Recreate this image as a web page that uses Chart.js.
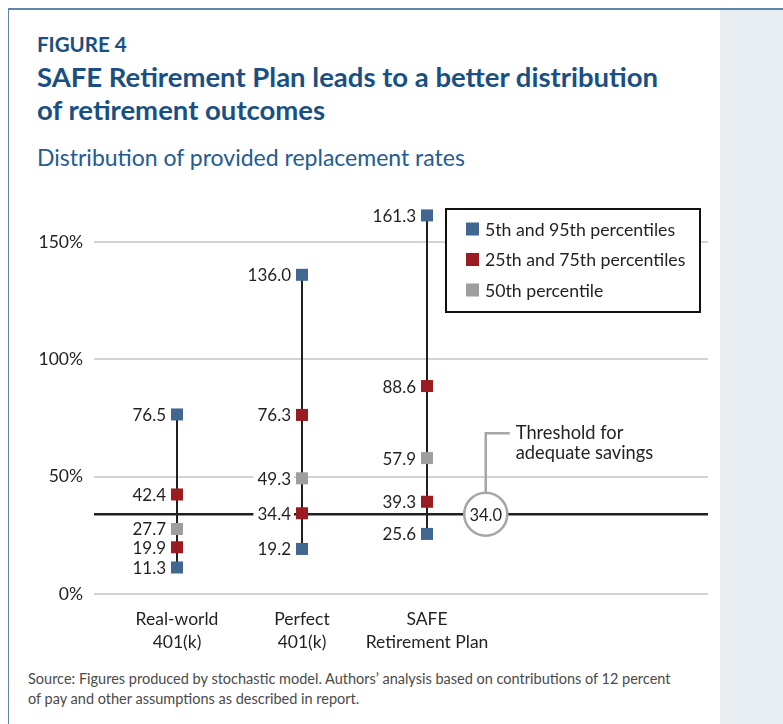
<!DOCTYPE html>
<html>
<head>
<meta charset="utf-8">
<script src="https://cdn.jsdelivr.net/npm/chart.js@4.4.1/dist/chart.umd.min.js"></script>
<style>
  body { margin: 0; width: 783px; height: 724px; background: #fff; position: relative; overflow: hidden; font-family: Lato, sans-serif; }
  .frame { position: absolute; left: 8px; top: 8px; right: 0; bottom: 0; border-left: 1.5px solid #5e85ab; border-top: 2px solid #5e85ab; }
  .side { position: absolute; left: 720px; top: 10px; width: 63px; bottom: 0; background: #e9eef3; }
  .fig { position: absolute; left: 37px; top: 32px; font-weight: 700; font-size: 20.5px; line-height: 24px; color: #1a4f84; }
  .title { position: absolute; left: 37px; top: 60px; font-weight: 700; font-size: 27.5px; line-height: 33px; color: #1a4f84; }
  .sub { position: absolute; left: 37px; top: 143px; font-size: 23px; line-height: 28px; color: #235b93; }
  .source { position: absolute; left: 28px; top: 669px; font-size: 14.5px; line-height: 20px; color: #4a4a4a; }
  #chart { position: absolute; left: 0; top: 0; }
</style>
</head>
<body>
<div class="frame"></div>
<div class="side"></div>
<div class="fig">FIGURE 4</div>
<div class="title">SAFE Retirement Plan leads to a better distribution<br>of retirement outcomes</div>
<div class="sub">Distribution of provided replacement rates</div>
<div class="source">Source: Figures produced by stochastic model. Authors’ analysis based on contributions of 12 percent<br>of pay and other assumptions as described in report.</div>
<canvas id="chart" width="720" height="724"></canvas>
<script>
const categories = [['Real-world', '401(k)'], ['Perfect', '401(k)'], ['SAFE', 'Retirement Plan']];
const p5 = [11.3, 19.2, 25.6];
const p25 = [19.9, 34.4, 39.3];
const p50 = [27.7, 49.3, 57.9];
const p75 = [42.4, 76.3, 88.6];
const p95 = [76.5, 136.0, 161.3];
const threshold = 34.0;
const yTicks = [0, 50, 100, 150];

const BLUE = '#41668f', RED = '#9b1c20', GREY = '#9e9e9e', INK = '#231f20';
const FONT = 'Lato, sans-serif';

function pts(...lists) {
  const out = [];
  lists.forEach(l => l.forEach((v, i) => out.push({ x: i + 1, y: v })));
  return out;
}

// vertical 5th-95th whiskers, broken with a null between categories
const ranges = [];
p5.forEach((v, i) => {
  ranges.push({ x: i + 1, y: v }, { x: i + 1, y: p95[i] }, { x: i + 1.5, y: null });
});

const marker = { pointStyle: 'rect', pointRadius: 8.5, pointHoverRadius: 8.5, borderWidth: 0, showLine: false };

// threshold line, circled value and callout
const thresholdPlugin = {
  id: 'threshold',
  beforeDatasetsDraw(chart) {
    const { ctx, chartArea: a, scales: { y } } = chart;
    const py = y.getPixelForValue(threshold);
    ctx.save();
    ctx.strokeStyle = INK;
    ctx.lineWidth = 2.5;
    ctx.beginPath();
    ctx.moveTo(a.left, py);
    ctx.lineTo(a.right, py);
    ctx.stroke();
    ctx.restore();
  },
  afterDatasetsDraw(chart) {
    const { ctx, scales: { x, y } } = chart;
    const cx = x.getPixelForValue(3.47), cy = y.getPixelForValue(threshold);
    ctx.save();
    ctx.strokeStyle = '#a6a6a6';
    ctx.lineWidth = 2.5;
    ctx.beginPath();
    ctx.moveTo(cx, cy - 22);
    ctx.lineTo(cx, cy - 81);
    ctx.lineTo(cx + 24, cy - 81);
    ctx.stroke();
    ctx.beginPath();
    ctx.arc(cx, cy, 21.5, 0, Math.PI * 2);
    ctx.fillStyle = '#fff';
    ctx.fill();
    ctx.stroke();
    ctx.fillStyle = INK;
    ctx.font = '16.5px ' + FONT;
    ctx.textAlign = 'center';
    ctx.textBaseline = 'middle';
    ctx.fillText(threshold.toFixed(1), cx, cy + 1);
    ctx.textAlign = 'left';
    ctx.font = '18.3px ' + FONT;
    ctx.fillText('Threshold for', cx + 30, cy - 81);
    ctx.fillText('adequate savings', cx + 30, cy - 61);
    ctx.restore();
  }
};

// value labels to the left of each square, on a white patch
const valueLabels = {
  id: 'valueLabels',
  afterDatasetsDraw(chart) {
    const { ctx } = chart;
    ctx.save();
    ctx.font = '17px ' + FONT;
    ctx.textAlign = 'right';
    ctx.textBaseline = 'middle';
    chart.data.datasets.forEach((ds, di) => {
      if (ds.type === 'line') return;
      chart.getDatasetMeta(di).data.forEach((pt, i) => {
        const txt = ds.data[i].y.toFixed(1);
        const w = ctx.measureText(txt).width;
        const right = pt.x - 11;
        ctx.fillStyle = '#fff';
        ctx.fillRect(right - w - 4, pt.y - 9, w + 7, 18);
        ctx.fillStyle = INK;
        ctx.fillText(txt, right, pt.y + 1);
      });
    });
    ctx.restore();
  }
};

// boxed legend in the upper right of the plot
const boxLegend = {
  id: 'boxLegend',
  afterDraw(chart) {
    const { ctx, chartArea: a } = chart;
    const bx = a.right - 262, by = a.top + 14, bw = 254, bh = 103;
    ctx.save();
    ctx.fillStyle = '#fff';
    ctx.fillRect(bx, by, bw, bh);
    ctx.strokeStyle = '#111';
    ctx.lineWidth = 2;
    ctx.strokeRect(bx, by, bw, bh);
    ctx.font = '17.7px ' + FONT;
    ctx.textBaseline = 'middle';
    chart.data.datasets.filter(d => d.type !== 'line').forEach((d, i) => {
      const ry = by + 20 + i * 30.5;
      ctx.fillStyle = d.backgroundColor;
      ctx.fillRect(bx + 20, ry - 6.5, 13, 13);
      ctx.fillStyle = INK;
      ctx.fillText(d.label, bx + 39, ry + 1);
    });
    ctx.restore();
  }
};

new Chart(document.getElementById('chart'), {
  type: 'scatter',
  data: {
    datasets: [
      { label: '5th and 95th percentiles', data: pts(p5, p95), backgroundColor: BLUE, ...marker },
      { label: '25th and 75th percentiles', data: pts(p25, p75), backgroundColor: RED, ...marker },
      { label: '50th percentile', data: pts(p50), backgroundColor: GREY, ...marker },
      { type: 'line', label: 'range', data: ranges, borderColor: INK, borderWidth: 2,
        pointRadius: 0, spanGaps: false, showLine: true, order: 10 }
    ]
  },
  options: {
    responsive: false,
    animation: false,
    devicePixelRatio: 1,
    layout: { padding: { top: 195, right: 12, bottom: 70, left: 0 } },
    plugins: {
      legend: { display: false },
      tooltip: { enabled: false }
    },
    scales: {
      x: {
        type: 'linear',
        min: 0.336,
        max: 5.248,
        afterBuildTicks: s => { s.ticks = categories.map((c, i) => ({ value: i + 1 })); },
        afterFit: s => { s.height = 60; },
        grid: { display: false, drawTicks: false },
        border: { display: false },
        ticks: {
          callback: v => categories[v - 1],
          padding: 14,
          color: INK,
          font: { family: FONT, size: 17.5, lineHeight: 1.32 },
          maxRotation: 0
        }
      },
      y: {
        min: 0,
        max: 170,
        afterBuildTicks: s => { s.ticks = yTicks.map(v => ({ value: v })); },
        afterFit: s => { s.width = 94; },
        grid: { color: '#d3d3d3', lineWidth: 2, drawTicks: false },
        border: { display: false },
        ticks: {
          callback: v => v + '%',
          padding: 11,
          color: INK,
          font: { family: FONT, size: 17.5 }
        }
      }
    }
  },
  plugins: [thresholdPlugin, valueLabels, boxLegend]
});
</script>
</body>
</html>
